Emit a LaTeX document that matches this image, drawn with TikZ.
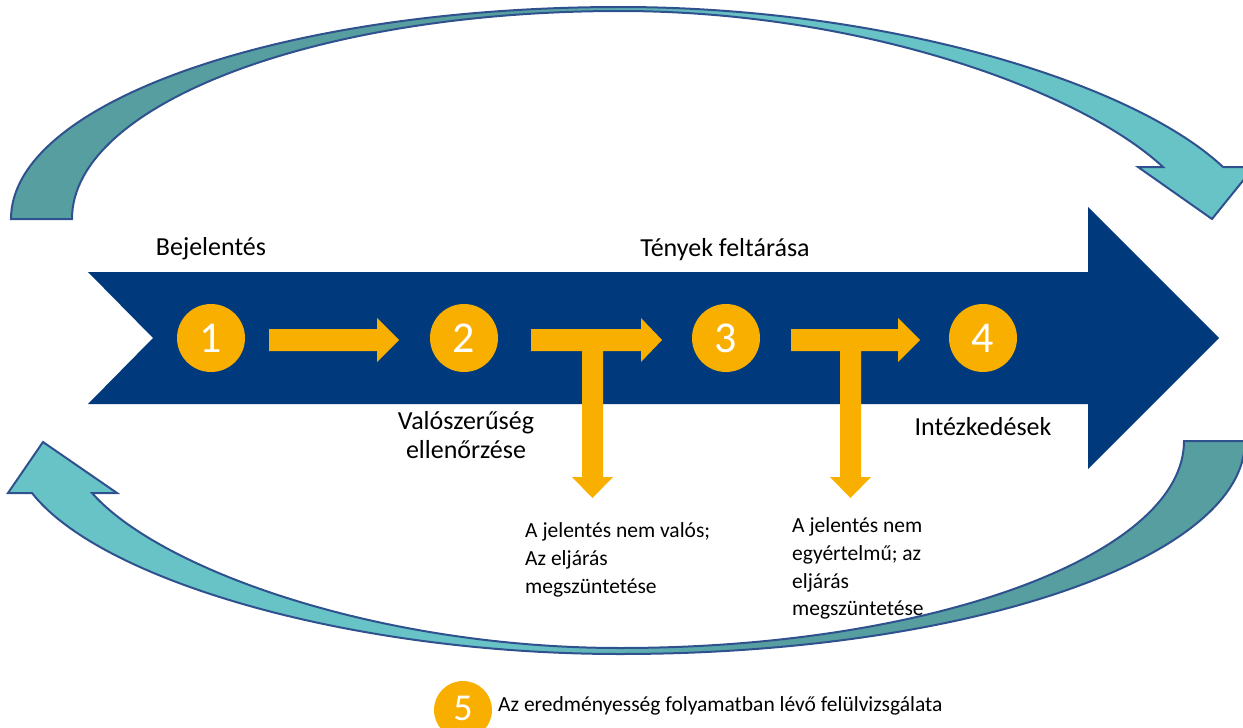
\documentclass[tikz,border=0pt]{standalone}
\usepackage{fontspec}
\setmainfont{Carlito}
\definecolor{navy}{HTML}{003A7D}
\definecolor{gold}{HTML}{F8AF00}
\definecolor{tealdark}{HTML}{569EA0}
\definecolor{teallight}{HTML}{68C3C7}
\definecolor{rim}{HTML}{2F528F}
\pgfdeclarehorizontalshading{topshade}{100bp}{color(0bp)=(tealdark); color(45bp)=(tealdark); color(55bp)=(teallight); color(100bp)=(teallight)}
\pgfdeclarehorizontalshading{botshade}{100bp}{color(0bp)=(teallight); color(45bp)=(teallight); color(55bp)=(tealdark); color(100bp)=(tealdark)}
\tikzset{
  numcirc/.style={circle, fill=gold, text=white, inner sep=0pt, minimum size=68, font=\fontsize{44}{44}\selectfont},
  biglabel/.style={inner sep=0pt, font=\fontsize{26}{31}\selectfont},
  smalllabel/.style={inner sep=0pt, anchor=base west, font=\fontsize{21.5}{28}\selectfont},
  bandarrow/.style={draw=rim, line width=2pt, line join=miter},
  blockarrow/.style={fill=gold},
}
\begin{document}
\begin{tikzpicture}[x=1pt,y=-1pt]
\useasboundingbox (0,0) rectangle (1243,728);
\clip (0,0) rectangle (1243,728);

% top curved arrow
\shadedraw[bandarrow, shading=topshade]
  (11,219) .. controls (11,102) and (284,7) .. (620,7)
  .. controls (880,7) and (1130,80) .. (1223,167)
  -- (1254,167) -- (1212,219) -- (1138,167) -- (1163,167)
  .. controls (1080,90) and (860,11) .. (620,11)
  .. controls (317,11) and (72,104) .. (72,219)
  -- cycle;

% bottom curved arrow
\shadedraw[bandarrow, shading=botshade]
  (1245,441) .. controls (1245,559) and (965,654) .. (620,654)
  .. controls (350,654) and (100,580) .. (32,493)
  -- (8,493) -- (43,442) -- (117,493) -- (92,493)
  .. controls (160,570) and (380,648) .. (620,648)
  .. controls (931,648) and (1184,555) .. (1184,441)
  -- cycle;

% main navy arrow
\fill[navy] (88,272) -- (1088,272) -- (1088,207) -- (1219,338) -- (1088,469) -- (1088,404) -- (88,404) -- (153,338) -- cycle;

% circles
\node[numcirc] (c1) at (211,338) {1};
\node[numcirc] (c2) at (464,338) {2};
\node[numcirc] (c3) at (726,338) {3};
\node[numcirc] (c4) at (983,338) {4};

% orange block arrows
\fill[blockarrow] (269,329) -- (377,329) -- (377,318) -- (399,340) -- (377,362) -- (377,351) -- (269,351) -- cycle;
\fill[blockarrow] (531,329) -- (641,329) -- (641,318) -- (662,340) -- (641,362) -- (641,351) -- (603,351) -- (603,477) -- (613,477) -- (592.5,498) -- (572,477) -- (582,477) -- (582,351) -- (531,351) -- cycle;
\fill[blockarrow] (791,329) -- (898,329) -- (898,318) -- (920,340) -- (898,362) -- (898,351) -- (861,351) -- (861,477) -- (871,477) -- (850.5,498) -- (830,477) -- (840,477) -- (840,351) -- (791,351) -- cycle;

% labels
\node[biglabel, anchor=base] (l1) at (211,255) {Bejelentés};
\node[biglabel, anchor=base] (l3) at (725,256) {Tények feltárása};
\node[biglabel, anchor=base] (l2a) at (466,429) {Valószerűség};
\node[biglabel, anchor=base] (l2b) at (466,458) {ellenőrzése};
\node[biglabel, anchor=base] (l4) at (983,435) {Intézkedések};

\node[smalllabel] (a1) at (525,537) {A jelentés nem valós;};
\node[smalllabel] (a2) at (525,565) {Az eljárás};
\node[smalllabel] (a3) at (525,593) {megszüntetése};

\node[smalllabel] (b1) at (792,532) {A jelentés nem};
\node[smalllabel] (b2) at (792,560) {egyértelmű; az};
\node[smalllabel] (b3) at (792,588) {eljárás};
\node[smalllabel] (b4) at (792,615) {megszüntetése};

% item 5
\node[numcirc, minimum size=58, font=\fontsize{38}{38}\selectfont] (c5) at (463,710) {\raisebox{3pt}{5}};
\node[smalllabel] (l5) at (498,711) {Az eredményesség folyamatban lévő felülvizsgálata};
\end{tikzpicture}
\end{document}
